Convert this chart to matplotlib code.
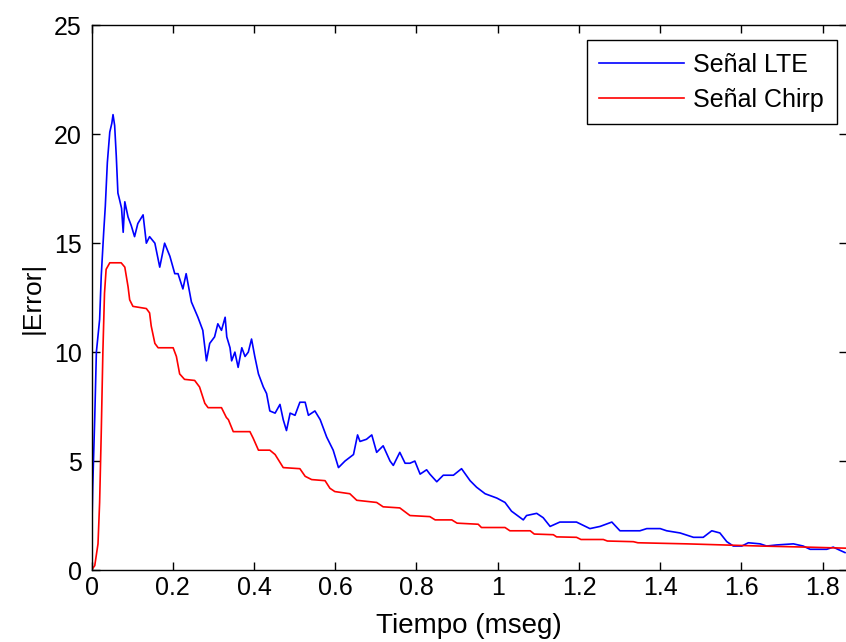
# |Error| vs tiempo, señal LTE y señal chirp

import matplotlib
matplotlib.use("Agg")
from matplotlib import pyplot as plt

# valores (tiempo en mseg, |Error|)
t_lte = [0.000, 0.001, 0.003, 0.008, 0.012, 0.020, 0.024, 0.030, 0.034, 0.039,
         0.045, 0.050, 0.053, 0.057, 0.061, 0.065, 0.069, 0.074, 0.078, 0.082,
         0.090, 0.098, 0.106, 0.114, 0.127, 0.135, 0.143, 0.156, 0.168, 0.180,
         0.193, 0.205, 0.213, 0.225, 0.233, 0.246, 0.262, 0.274, 0.283, 0.291,
         0.303, 0.311, 0.320, 0.329, 0.333, 0.341, 0.345, 0.353, 0.361, 0.370,
         0.378, 0.386, 0.394, 0.402, 0.411, 0.423, 0.431, 0.439, 0.452, 0.464,
         0.472, 0.480, 0.489, 0.501, 0.513, 0.526, 0.534, 0.550, 0.563, 0.579,
         0.595, 0.608, 0.624, 0.645, 0.655, 0.661, 0.677, 0.690, 0.702, 0.718,
         0.735, 0.743, 0.759, 0.772, 0.784, 0.796, 0.809, 0.825, 0.833, 0.850,
         0.866, 0.891, 0.911, 0.932, 0.948, 0.969, 0.998, 1.018, 1.034, 1.063,
         1.071, 1.096, 1.112, 1.129, 1.153, 1.194, 1.227, 1.252, 1.281, 1.301,
         1.326, 1.350, 1.367, 1.400, 1.416, 1.449, 1.482, 1.506, 1.527, 1.547,
         1.564, 1.580, 1.601, 1.617, 1.646, 1.662, 1.687, 1.728, 1.752, 1.769,
         1.810, 1.826, 1.843, 1.855]
err_lte = [0.0, 2.0, 3.8, 7.0, 10.0, 11.5, 13.5, 15.5, 16.7, 18.7,
           20.1, 20.5, 20.9, 20.4, 19.0, 17.3, 17.0, 16.6, 15.5, 16.9,
           16.2, 15.8, 15.3, 15.9, 16.3, 15.0, 15.3, 15.0, 13.9, 15.0,
           14.4, 13.6, 13.6, 12.9, 13.6, 12.3, 11.6, 11.0, 9.6, 10.4,
           10.7, 11.3, 11.0, 11.6, 10.7, 10.2, 9.6, 10.0, 9.3, 10.2,
           9.8, 10.0, 10.6, 9.8, 9.0, 8.4, 8.1, 7.3, 7.2, 7.6,
           6.9, 6.4, 7.2, 7.1, 7.7, 7.7, 7.1, 7.3, 6.9, 6.1,
           5.5, 4.7, 5.0, 5.3, 6.2, 5.9, 6.0, 6.2, 5.4, 5.7,
           5.0, 4.8, 5.4, 4.9, 4.9, 5.0, 4.4, 4.6, 4.4, 4.05,
           4.35, 4.35, 4.65, 4.1, 3.8, 3.5, 3.3, 3.1, 2.7, 2.3,
           2.5, 2.6, 2.4, 2.0, 2.2, 2.2, 1.9, 2.0, 2.2, 1.8,
           1.8, 1.8, 1.9, 1.9, 1.8, 1.7, 1.5, 1.5, 1.8, 1.7,
           1.3, 1.1, 1.1, 1.25, 1.2, 1.1, 1.15, 1.2, 1.1, 0.95,
           0.95, 1.05, 0.9, 0.8]

t_chirp = [0.000, 0.008, 0.016, 0.020, 0.024, 0.028, 0.032, 0.036, 0.045, 0.073,
           0.082, 0.090, 0.094, 0.102, 0.135, 0.143, 0.147, 0.156, 0.164, 0.201,
           0.209, 0.217, 0.229, 0.254, 0.266, 0.279, 0.287, 0.320, 0.332, 0.337,
           0.349, 0.390, 0.398, 0.411, 0.439, 0.452, 0.472, 0.513, 0.526, 0.542,
           0.575, 0.587, 0.599, 0.636, 0.653, 0.702, 0.718, 0.759, 0.784, 0.833,
           0.846, 0.887, 0.900, 0.952, 0.960, 1.018, 1.030, 1.080, 1.090, 1.137,
           1.145, 1.194, 1.205, 1.260, 1.270, 1.334, 1.345, 1.465, 1.646, 1.761,
           1.860]
err_chirp = [0.0, 0.2, 1.2, 3.1, 6.3, 10.0, 12.7, 13.8, 14.1, 14.1,
             13.9, 13.0, 12.4, 12.1, 12.0, 11.8, 11.2, 10.4, 10.2, 10.2,
             9.8, 9.0, 8.75, 8.7, 8.4, 7.65, 7.45, 7.45, 7.0, 6.9,
             6.35, 6.35, 6.05, 5.5, 5.5, 5.3, 4.7, 4.65, 4.3, 4.15,
             4.1, 3.75, 3.6, 3.5, 3.2, 3.1, 2.9, 2.85, 2.5, 2.45,
             2.3, 2.3, 2.15, 2.1, 1.95, 1.95, 1.8, 1.8, 1.65, 1.62,
             1.52, 1.5, 1.4, 1.4, 1.33, 1.3, 1.25, 1.2, 1.1, 1.05,
             1.0]

x_ticks = [0, 0.2, 0.4, 0.6, 0.8, 1.0, 1.2, 1.4, 1.6, 1.8]
x_labels = ["0", "0.2", "0.4", "0.6", "0.8", "1", "1.2", "1.4", "1.6", "1.8"]
y_ticks = [0, 5, 10, 15, 20, 25]

plt.rcParams['font.family'] = ['Liberation Sans', 'DejaVu Sans']

fig = plt.figure(figsize=(8.46, 6.42), dpi=100)
# el eje llega hasta el borde derecho (imagen recortada)
ax = fig.add_axes([91.5 / 846, 72 / 642, 755.5 / 846, 544.7 / 642])

ax.plot(t_lte, err_lte, color="#0000ff", lw=1.2, label="Señal LTE")
ax.plot(t_chirp, err_chirp, color="#ff0000", lw=1.2, label="Señal Chirp")

ax.set_xlim(0, 755.5 / 406.2)
ax.set_ylim(0, 25)
ax.set_xticks(x_ticks)
ax.set_xticklabels(x_labels)
ax.set_yticks(y_ticks)
ax.tick_params(direction="in", top=True, right=True, length=6, width=1,
               labelsize=18)
ax.tick_params(axis="x", pad=4)
ax.tick_params(axis="y", pad=7)
for sp in ax.spines.values():
    sp.set_linewidth(1.0)

ax.set_xlabel("Tiempo (mseg)", fontsize=20, labelpad=10)
ax.set_ylabel("|Error|", fontsize=19, labelpad=7)

leg = ax.legend(loc="upper right", bbox_to_anchor=(0.9864, 0.973),
                borderaxespad=0, fontsize=18,
                fancybox=False, edgecolor="black", framealpha=1,
                handlelength=3.4, handletextpad=0.37,
                borderpad=0.5, labelspacing=0.45)
leg.get_frame().set_linewidth(1.0)

fig.savefig("out.png", dpi=100)
plt.close(fig)
